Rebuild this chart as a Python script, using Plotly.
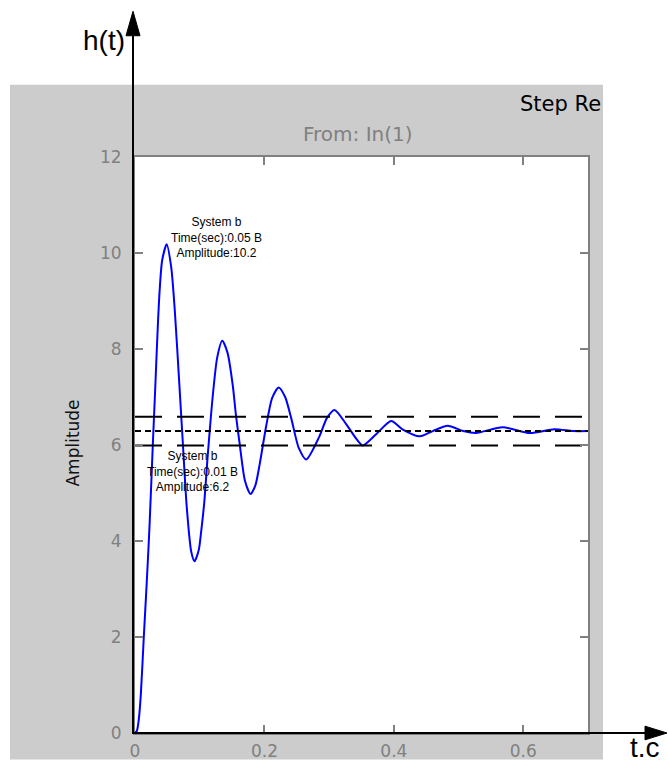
import plotly.graph_objects as go

# ---- data ----
t = [0.000, 0.003, 0.006, 0.009, 0.0136, 0.018, 0.0224, 0.0275, 0.031, 0.035,
     0.038, 0.042, 0.049, 0.056, 0.0615, 0.0688, 0.074, 0.080, 0.087, 0.092,
     0.0986, 0.102, 0.107, 0.1125, 0.120, 0.127, 0.1348, 0.143, 0.151, 0.156,
     0.1615, 0.170, 0.1785, 0.186, 0.1924, 0.2028, 0.212, 0.222, 0.232, 0.2414,
     0.253, 0.2646, 0.285, 0.2965, 0.3083, 0.326, 0.342, 0.352, 0.373, 0.396,
     0.414, 0.440, 0.460, 0.483, 0.507, 0.527, 0.568, 0.610, 0.648, 0.677,
     0.700]
h = [0.00, 0.05, 0.30, 0.80, 2.00, 3.10, 4.30, 6.00, 7.10, 8.40,
     9.20, 9.85, 10.18, 9.70, 8.80, 7.20, 6.02, 4.70, 3.77, 3.58,
     3.82, 4.17, 4.80, 5.80, 7.00, 7.82, 8.17, 7.92, 7.25, 6.62,
     6.05, 5.25, 4.98, 5.16, 5.58, 6.40, 6.98, 7.20, 7.00, 6.56,
     5.94, 5.70, 6.18, 6.56, 6.73, 6.44, 6.13, 5.99, 6.23, 6.50,
     6.32, 6.18, 6.29, 6.40, 6.29, 6.25, 6.37, 6.25, 6.33, 6.29,
     6.29]

band_x = [0.0, 0.7]
final_value = 6.29
band_upper = 6.59
band_lower = 5.99

x_ticks = [0, 0.2, 0.4, 0.6]
x_ticklabels = ["0", "0.2", "0.4", "0.6"]
y_ticks = [0, 2, 4, 6, 8, 10, 12]
y_ticklabels = ["0", "2", "4", "6", "8", "10", "12"]

peak_note = "System b<br>Time(sec):0.05 B<br>Amplitude:10.2"
start_note = "System b<br>Time(sec):0.01 B<br>Amplitude:6.2"

# ---- layout geometry (pixels) ----
W, H = 668, 773
PL, PR, PT, PB = 135, 588, 157, 746
PW, PH = PR - PL, PB - PT


def px(x):
    return (x - PL) / PW


def py(y):
    return (PB - y) / PH


fig = go.Figure()

fig.add_trace(go.Scatter(x=t, y=h, mode="lines",
                         line=dict(color="#0000ff", width=2, shape="spline", smoothing=0.7),
                         hoverinfo="skip", showlegend=False))
fig.add_trace(go.Scatter(x=band_x, y=[band_upper, band_upper], mode="lines",
                         line=dict(color="black", width=2, dash="27px,15px"),
                         hoverinfo="skip", showlegend=False))
fig.add_trace(go.Scatter(x=band_x, y=[band_lower, band_lower], mode="lines",
                         line=dict(color="black", width=2, dash="27px,15px"),
                         hoverinfo="skip", showlegend=False))
fig.add_trace(go.Scatter(x=band_x, y=[final_value, final_value], mode="lines",
                         line=dict(color="black", width=2, dash="6px,4px"),
                         hoverinfo="skip", showlegend=False))

tickfont = dict(family="DejaVu Sans", size=17, color="#808080")

fig.update_xaxes(range=[0, 0.7], tickvals=x_ticks, ticktext=x_ticklabels,
                 ticks="inside", ticklen=8, tickwidth=1.5, tickcolor="#808080",
                 showline=True, linecolor="#808080", linewidth=2, mirror="ticks",
                 showgrid=False, zeroline=False, tickfont=tickfont, ticklabelstandoff=2)
fig.update_yaxes(range=[0, 12], tickvals=y_ticks, ticktext=y_ticklabels,
                 ticks="inside", ticklen=8, tickwidth=1.5, tickcolor="#808080",
                 showline=True, linecolor="#808080", linewidth=2, mirror="ticks",
                 showgrid=False, zeroline=False, tickfont=tickfont, ticklabelstandoff=8)

shapes = [
    # grey figure panel
    dict(type="rect", xref="paper", yref="paper", x0=px(10), x1=px(603), y0=py(773), y1=py(83),
         fillcolor="#cccccc", line=dict(width=0), layer="below"),
    # white axes area
    dict(type="rect", xref="paper", yref="paper", x0=0, x1=1, y0=0, y1=1,
         fillcolor="white", line=dict(width=0), layer="below"),
    # vertical h(t) arrow
    dict(type="line", xref="paper", yref="paper", x0=px(133), x1=px(133), y0=py(747), y1=py(28),
         line=dict(color="black", width=2)),
    dict(type="path", xref="paper", yref="paper",
         path=f"M {px(133)},{py(8)} L {px(126)},{py(33)} L {px(140)},{py(33)} Z",
         fillcolor="black", line=dict(color="black", width=1)),
    # horizontal t arrow
    dict(type="line", xref="paper", yref="paper", x0=px(133), x1=px(650), y0=py(746), y1=py(746),
         line=dict(color="black", width=2)),
    dict(type="path", xref="paper", yref="paper",
         path=f"M {px(667)},{py(746)} L {px(645)},{py(739)} L {px(645)},{py(753)} Z",
         fillcolor="black", line=dict(color="black", width=1)),
]

annotations = [
    dict(text="h(t)", xref="paper", yref="paper", x=px(104), y=py(38), showarrow=False,
         font=dict(family="Liberation Sans, Arial", size=28, color="black"),
         xanchor="center", yanchor="middle"),
    dict(text="t.c", xref="paper", yref="paper", x=px(645), y=py(761), showarrow=False,
         font=dict(family="Liberation Sans, Arial", size=28, color="black"),
         xanchor="center", yanchor="middle"),
    dict(text="Step Re", xref="paper", yref="paper", x=px(603), y=py(103), showarrow=False,
         font=dict(family="DejaVu Sans", size=21, color="black"),
         xanchor="right", yanchor="middle"),
    dict(text="From: In(1)", xref="paper", yref="paper", x=px(358), y=py(133), showarrow=False,
         font=dict(family="DejaVu Sans", size=20, color="#808080"),
         xanchor="center", yanchor="middle"),
    dict(text="Amplitude", xref="paper", yref="paper", x=px(73), y=py(450), showarrow=False,
         textangle=-90, font=dict(family="DejaVu Sans", size=17, color="#111111"),
         xanchor="center", yanchor="middle"),
    dict(text=peak_note, xref="x", yref="y", x=0.126, y=10.33, showarrow=False,
         font=dict(family="Liberation Sans, Arial", size=12, color="black"),
         align="center", xanchor="center", yanchor="middle"),
    dict(text=start_note, xref="x", yref="y", x=0.089, y=5.44, showarrow=False,
         font=dict(family="Liberation Sans, Arial", size=12, color="black"),
         align="center", xanchor="center", yanchor="middle"),
]

fig.update_layout(width=W, height=H, autosize=False,
                  margin=dict(l=PL, r=W - PR, t=PT, b=H - PB, pad=0),
                  paper_bgcolor="white", plot_bgcolor="white",
                  shapes=shapes, annotations=annotations, showlegend=False)

fig.write_html("out.html")
